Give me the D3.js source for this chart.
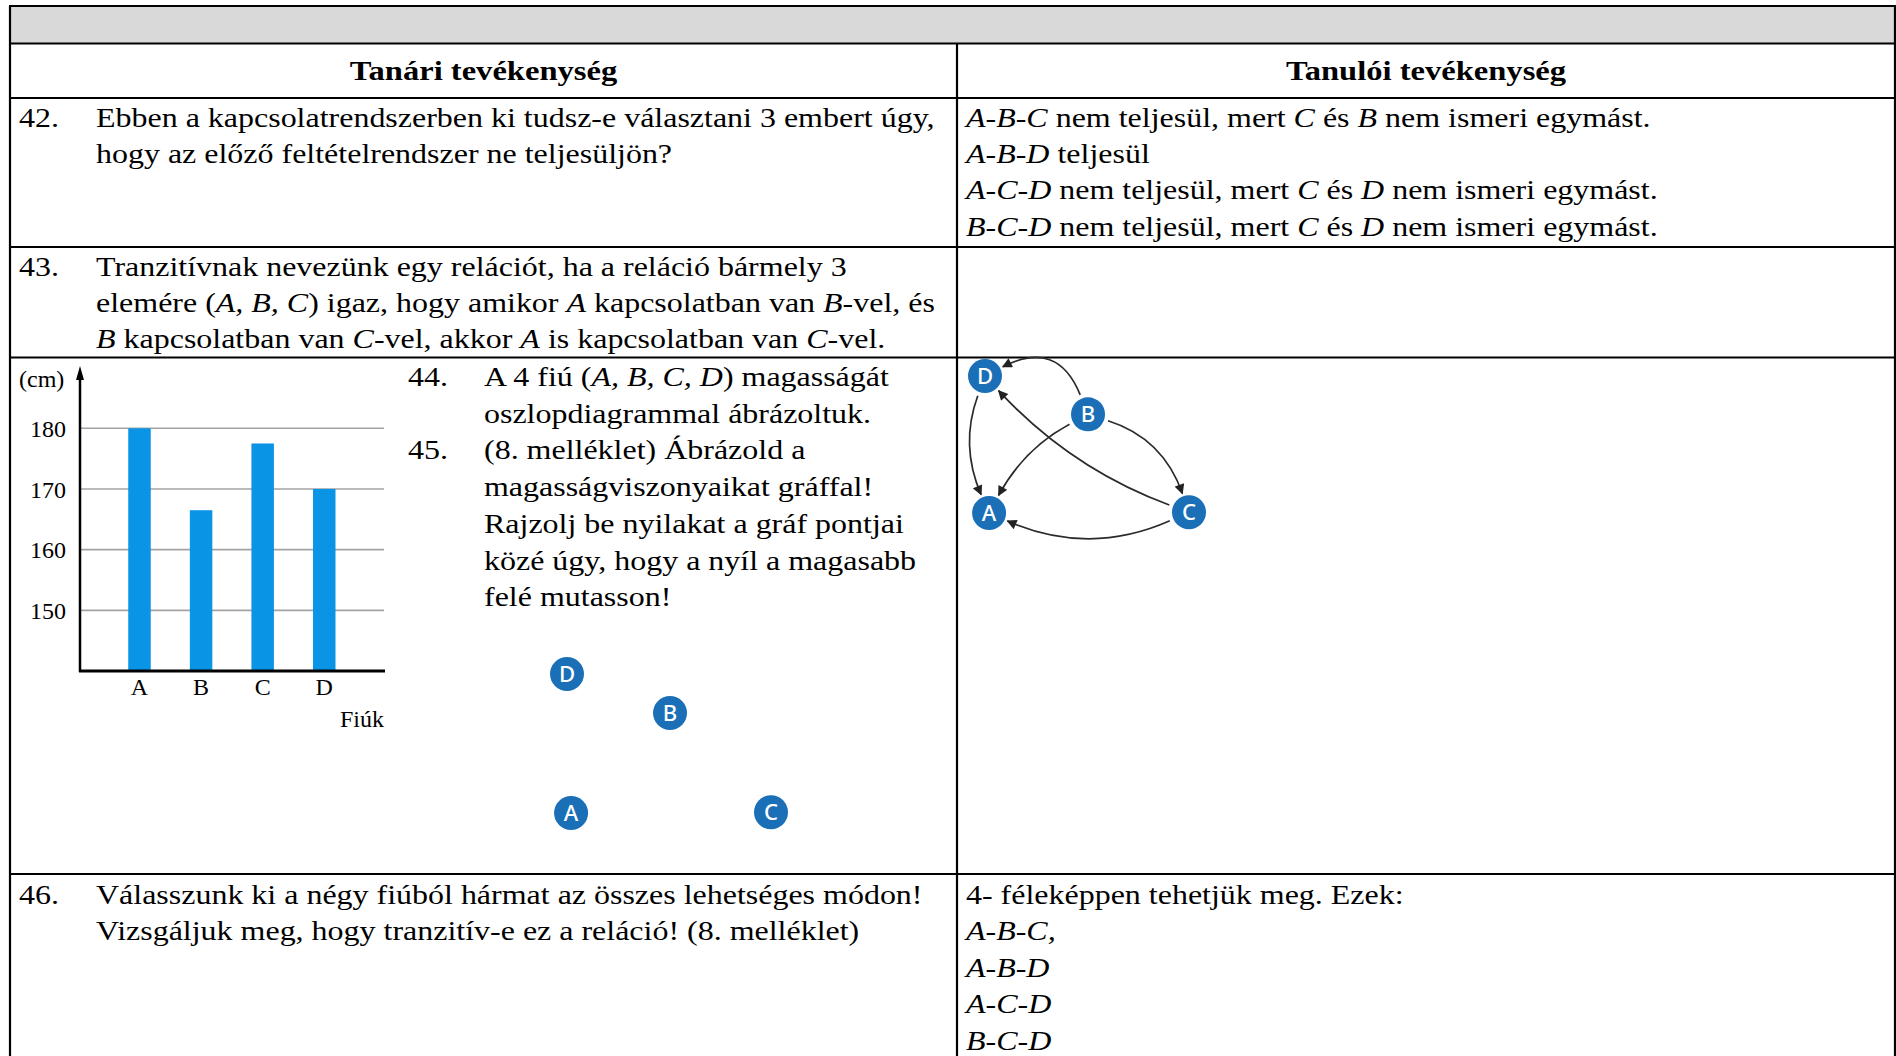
<!DOCTYPE html>
<html>
<head>
<meta charset="utf-8">
<title>Tanári / Tanulói tevékenység</title>
<script src="https://d3js.org/d3.v7.min.js"></script>
<style>
	body { margin: 0; background: #fff; }
	svg text { font-family: "Liberation Serif", serif; fill: #000; white-space: pre; }
	.node text { font-family: "Noto Sans", "DejaVu Sans", sans-serif; fill: #fff; font-weight: 500; }
</style>
</head>
<body>
<svg id="page" width="1896" height="1056"></svg>
<script>
// ---- data ----
var headers = ["Tanári tevékenység", "Tanulói tevékenység"];

// *...* marks italic parts
var row42Left = ["Ebben a kapcsolatrendszerben ki tudsz-e választani 3 embert úgy,",
	"hogy az előző feltételrendszer ne teljesüljön?"];
var row42Right = ["*A-B-C* nem teljesül, mert *C* és *B* nem ismeri egymást.",
	"*A-B-D* teljesül",
	"*A-C-D* nem teljesül, mert *C* és *D* nem ismeri egymást.",
	"*B-C-D* nem teljesül, mert *C* és *D* nem ismeri egymást."];
var row43Left = ["Tranzitívnak nevezünk egy relációt, ha a reláció bármely 3",
	"elemére (*A, B, C*) igaz, hogy amikor *A* kapcsolatban van *B*-vel, és",
	"*B* kapcsolatban van *C*-vel, akkor *A* is kapcsolatban van *C*-vel."];
var row44Text = ["A 4 fiú (*A, B, C, D*) magasságát",
	"oszlopdiagrammal ábrázoltuk.",
	"(8. melléklet) Ábrázold a",
	"magasságviszonyaikat gráffal!",
	"Rajzolj be nyilakat a gráf pontjai",
	"közé úgy, hogy a nyíl a magasabb",
	"felé mutasson!"];
var row44Numbers = ["44.", "", "45."];
var row46Left = ["Válasszunk ki a négy fiúból hármat az összes lehetséges módon!",
	"Vizsgáljuk meg, hogy tranzitív-e ez a reláció! (8. melléklet)"];
var row46Right = ["4- féleképpen tehetjük meg. Ezek:", "*A-B-C,*", "*A-B-D*", "*A-C-D*", "*B-C-D*"];

// bar chart
var boys = ["A", "B", "C", "D"];
var heights = [180, 166.5, 177.5, 170];
var heightTicks = [150, 160, 170, 180];

// graph: node layout (relative 0..1) and arrows (from shorter to taller)
var nodeIds = ["D", "B", "A", "C"];
var nodeGX = [0, 0.505, 0.02, 1];
var nodeGY = [0, 0.28, 1, 0.995];
var edgeFrom = ["B", "D", "B", "C", "B", "C"];
var edgeTo   = ["D", "A", "A", "D", "C", "A"];
var edgeBend = [0.55, 0.2, 0.15, -0.12, -0.25, -0.22];

// ---- layout ----
var colX = [10, 957, 1895];
var rowY = [6, 43.5, 98, 247, 357.5, 874, 1060];
var fs = 27.5, lh = 36.4, sx = 1.163;

var svg = d3.select("#page");

// gray top band
svg.append("rect").attr("x", colX[0]).attr("y", rowY[0])
	.attr("width", colX[2] - colX[0]).attr("height", rowY[1] - rowY[0])
	.attr("fill", "#d9d9d9");

// text of the document is a bit wider than Times: stretch horizontally
function richLine(g, x, y, str, size, anchor) {
	var t = g.append("text").attr("transform", "translate(" + x + "," + y + ") scale(" + sx + ",1)")
		.style("font-size", size + "px")
		.attr("text-anchor", anchor || "start");
	str.split("*").forEach(function(seg, i) {
		if (seg) t.append("tspan").text(seg).style("font-style", i % 2 ? "italic" : "normal");
	});
	return t;
}

function block(lines, x, y0, size, step) {
	lines.forEach(function(l, i) { richLine(svg, x, y0 + i * step, l, size); });
}

// headers
headers.forEach(function(h, i) {
	richLine(svg, (colX[i] + colX[i + 1]) / 2, 80, h, 28, "middle").style("font-weight", "bold");
});

// row 42
richLine(svg, 19, rowY[2] + 28.5, "42.", fs);
block(row42Left, 96, rowY[2] + 28.5, fs, lh);
block(row42Right, 966, rowY[2] + 28.5, fs, lh);
// row 43
richLine(svg, 19, rowY[3] + 28.5, "43.", fs);
block(row43Left, 96, rowY[3] + 28.5, fs, lh);
// row 44/45
row44Numbers.forEach(function(n, i) {
	if (n) richLine(svg, 408, rowY[4] + 28.5 + i * 36.7, n, fs);
});
block(row44Text, 484, rowY[4] + 28.5, fs, 36.7);
// row 46
richLine(svg, 19, rowY[5] + 30, "46.", fs);
block(row46Left, 96, rowY[5] + 30, fs, lh);
block(row46Right, 966, rowY[5] + 30, fs, lh);

// table lines
var lines = svg.append("g").attr("stroke", "#000").attr("stroke-width", 2.2);
rowY.slice(0, 6).forEach(function(y) {
	lines.append("line").attr("x1", colX[0] - 1).attr("x2", colX[2] + 1).attr("y1", y).attr("y2", y);
});
[colX[0], colX[2]].forEach(function(x) {
	lines.append("line").attr("x1", x).attr("x2", x).attr("y1", rowY[0]).attr("y2", 1056);
});
lines.append("line").attr("x1", colX[1]).attr("x2", colX[1]).attr("y1", rowY[1]).attr("y2", 1056);

// ---- bar chart ----
var chart = svg.append("g");
var y = d3.scaleLinear().domain([140, 180]).range([671, 428.3]);
var x = d3.scaleBand().domain(boys).range([128.25, 335.5]).paddingInner(0.635).paddingOuter(0);

chart.append("g").selectAll("line").data(heightTicks).join("line")
	.attr("x1", 80).attr("x2", 384)
	.attr("y1", function(d) { return y(d); }).attr("y2", function(d) { return y(d); })
	.attr("stroke", "#a3a3a3").attr("stroke-width", 1.6);

chart.append("g").selectAll("rect").data(heights).join("rect")
	.attr("x", function(d, i) { return x(boys[i]); })
	.attr("width", x.bandwidth())
	.attr("y", function(d) { return y(d); })
	.attr("height", function(d) { return y(140) - y(d); })
	.attr("fill", "#0994e6");

var yAxis = chart.append("g").attr("transform", "translate(66,0)")
	.call(d3.axisLeft(y).tickValues(heightTicks).tickSize(0).tickPadding(0))
	.attr("font-family", null).attr("font-size", null);
yAxis.select(".domain").remove();
yAxis.selectAll("text").style("font-size", "24px").attr("fill", "#000").attr("dy", "0.34em");

var xAxis = chart.append("g").attr("transform", "translate(0,671)")
	.call(d3.axisBottom(x).tickSize(0).tickPadding(0))
	.attr("font-family", null).attr("font-size", null);
xAxis.select(".domain").remove();
xAxis.selectAll("text").style("font-size", "24px").attr("fill", "#000").attr("dy", "0").attr("y", 24);

chart.append("line").attr("x1", 79).attr("x2", 385).attr("y1", 671).attr("y2", 671)
	.attr("stroke", "#000").attr("stroke-width", 3);
chart.append("line").attr("x1", 80).attr("x2", 80).attr("y1", 672).attr("y2", 376)
	.attr("stroke", "#000").attr("stroke-width", 2.5);
chart.append("path").attr("d", "M80,366 L84,380 L76,380 Z").attr("fill", "#000");
chart.append("text").attr("x", 19).attr("y", 387).style("font-size", "24px").text("(cm)");
chart.append("text").attr("x", 384).attr("y", 727).attr("text-anchor", "end")
	.style("font-size", "24px").text("Fiúk");

// ---- graphs ----
svg.append("defs").append("marker").attr("id", "arr")
	.attr("viewBox", "0 0 10 10").attr("refX", 9).attr("refY", 5)
	.attr("markerWidth", 12).attr("markerHeight", 10).attr("markerUnits", "userSpaceOnUse")
	.attr("orient", "auto")
	.append("path").attr("d", "M0,0 L10,5 L0,10 Z").attr("fill", "#222");

function drawGraph(x0, x1, y0, y1, withEdges, r) {
	var gx = d3.scaleLinear().domain([0, 1]).range([x0, x1]);
	var gy = d3.scaleLinear().domain([0, 1]).range([y0, y1]);
	var pos = {};
	nodeIds.forEach(function(id, i) { pos[id] = [gx(nodeGX[i]), gy(nodeGY[i])]; });
	var g = svg.append("g");
	if (withEdges) {
		edgeFrom.forEach(function(f, i) {
			var a = pos[f], b = pos[edgeTo[i]];
			var dx = b[0] - a[0], dy = b[1] - a[1], len = Math.hypot(dx, dy);
			var cx = (a[0] + b[0]) / 2 - dy / len * edgeBend[i] * len;
			var cy = (a[1] + b[1]) / 2 + dx / len * edgeBend[i] * len;
			function trim(p, q, d) {
				var vx = q[0] - p[0], vy = q[1] - p[1], l = Math.hypot(vx, vy);
				return [p[0] + vx / l * d, p[1] + vy / l * d];
			}
			var s = trim(a, [cx, cy], r + 4), e = trim(b, [cx, cy], r + 3);
			var path = d3.path();
			path.moveTo(s[0], s[1]);
			path.quadraticCurveTo(cx, cy, e[0], e[1]);
			g.append("path").attr("d", path.toString()).attr("fill", "none")
				.attr("stroke", "#2b2b2b").attr("stroke-width", 1.7)
				.attr("marker-end", "url(#arr)");
		});
	}
	var nodes = g.selectAll(".node").data(nodeIds).join("g").attr("class", "node")
		.attr("transform", function(d) { return "translate(" + pos[d][0] + "," + pos[d][1] + ")"; });
	nodes.append("circle").attr("r", r).attr("fill", "#1a6fb6");
	nodes.append("text").attr("text-anchor", "middle").attr("dy", "0.36em")
		.style("font-size", (r * 1.3) + "px").text(function(d) { return d; });
}

drawGraph(567, 771, 674, 813, false, 17);
drawGraph(985, 1189, 376, 513, true, 17);
</script>
</body>
</html>
